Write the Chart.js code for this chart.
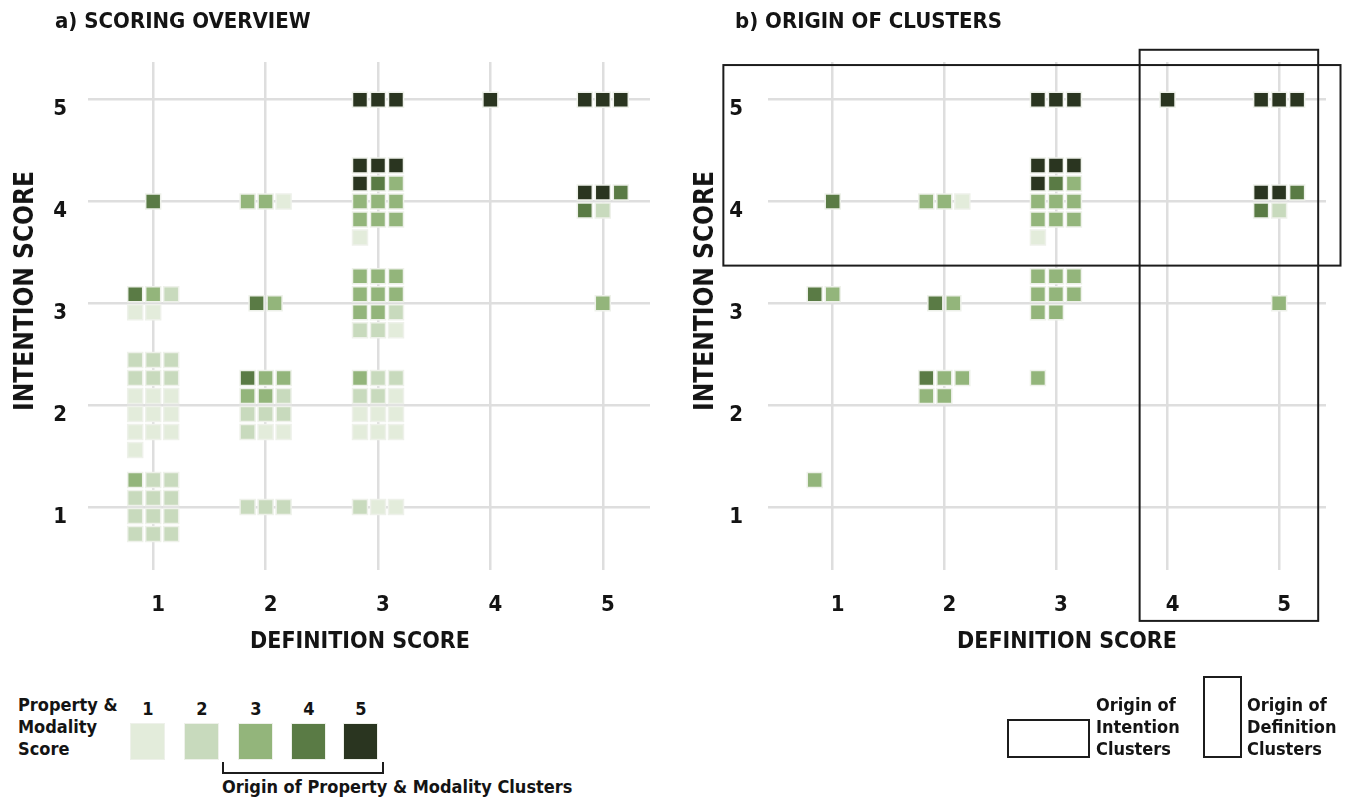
<!DOCTYPE html>
<html>
<head>
<meta charset="utf-8">
<script src="https://cdn.jsdelivr.net/npm/chart.js@4.4.1/dist/chart.umd.min.js"></script>
<style>
  body { margin: 0; background: #fff; }
  #page {
    position: relative; width: 1345px; height: 799px; overflow: hidden;
    font-family: "Liberation Sans Narrow", "DejaVu Sans Condensed", sans-serif;
    font-weight: bold; color: #141414;
  }
  .abs { position: absolute; white-space: nowrap; }
  .ptitle { font-size: 22px; top: 8px; }
  .xtitle { font-size: 23px; transform: translate(-50%, -50%); }
  .ytitle { font-size: 26px; transform: translate(-50%, -50%) rotate(-90deg); }
  .leg { font-size: 18px; line-height: 22px; }
  .swatch { position: absolute; width: 33px; height: 35px; border: 1.5px solid #eef1ea; }
  .num { position: absolute; font-size: 18px; transform: translateX(-50%); }
  .frame { position: absolute; border: 2px solid #1c1c1c; box-sizing: border-box; }
  canvas { position: absolute; top: 0; }
</style>
</head>
<body>
<div id="page">
  <canvas id="overview" width="680" height="680" style="left:0"></canvas>
  <canvas id="origin" width="665" height="680" style="left:680px"></canvas>

  <div class="abs ptitle" style="left:55px">a) SCORING OVERVIEW</div>
  <div class="abs ptitle" style="left:735px">b) ORIGIN OF CLUSTERS</div>
  <div class="abs xtitle" style="left:360px;top:640px">DEFINITION SCORE</div>
  <div class="abs xtitle" style="left:1067px;top:640px">DEFINITION SCORE</div>
  <div class="abs ytitle" style="left:24px;top:291px">INTENTION SCORE</div>
  <div class="abs ytitle" style="left:704px;top:291px">INTENTION SCORE</div>

  <div class="abs leg" style="left:18px;top:694px">Property &amp;<br>Modality<br>Score</div>
  <div id="swatches"></div>
  <div class="frame" style="left:222px;top:762px;width:162px;height:12px;border-top:none"></div>
  <div class="abs leg" style="left:222px;top:776px">Origin of Property &amp; Modality Clusters</div>

  <div class="frame" style="left:1007px;top:719px;width:83px;height:39px"></div>
  <div class="abs leg" style="left:1096px;top:694px">Origin of<br>Intention<br>Clusters</div>
  <div class="frame" style="left:1203px;top:676px;width:39px;height:82px"></div>
  <div class="abs leg" style="left:1247px;top:694px">Origin of<br>Definition<br>Clusters</div>
</div>

<script>
const FONT = '"Liberation Sans Narrow", "DejaVu Sans Condensed", sans-serif';

const defScores = [1, 2, 3, 4, 5];
const intScores = [1, 2, 3, 4, 5];
const pmScores = [1, 2, 3, 4, 5];
const pmColors = ["#e3ecdb", "#c8dabd", "#93b57b", "#5a7b45", "#2a3520"];

// [definition, intention, rows of property & modality scores] ("." = empty slot)
const overviewCells = [
  [3, 5, "555"],
  [4, 5, "5"],
  [5, 5, "555"],
  [1, 4, "4"],
  [2, 4, "331"],
  [3, 4, "555/543/333/333/1"],
  [5, 4, "554/42"],
  [1, 3, "432/11"],
  [2, 3, "43"],
  [3, 3, "333/333/332/221"],
  [5, 3, "3"],
  [1, 2, "222/222/111/111/111/1"],
  [2, 2, "433/332/222/211"],
  [3, 2, "322/221/111/111"],
  [1, 1, "322/222/222/222"],
  [2, 1, "222"],
  [3, 1, "211"],
];

const originCells = [
  [3, 5, "555"],
  [4, 5, "5"],
  [5, 5, "555"],
  [1, 4, "4"],
  [2, 4, "331"],
  [3, 4, "555/543/333/333/1"],
  [5, 4, "554/42"],
  [1, 3, "43./.."],
  [2, 3, "43"],
  [3, 3, "333/333/33./..."],
  [5, 3, "3"],
  [2, 2, "433/33./.../..."],
  [3, 2, "3../.../.../..."],
  [1, 1, "3../.../.../..."],
];

// cluster frames in panel b, in score units
const intentionFrame = { x: [0.02, 5.55], y: [3.37, 5.34] };
const definitionFrame = { x: [3.75, 5.35], y: [-0.12, 5.49] };

const PITCH = 18;

/* ---------- legend swatches ---------- */
const swatchLeft = [130, 184, 238, 291, 343];
document.getElementById("swatches").innerHTML = pmScores.map((s, i) =>
  `<div class="num" style="left:${swatchLeft[i] + 18}px;top:698px">${s}</div>` +
  `<div class="swatch" style="left:${swatchLeft[i]}px;top:723px;background:${pmColors[i]}"></div>`
).join("");

/* ---------- data ---------- */
function buildDatasets(cells) {
  return pmScores.map((s, k) => {
    const pts = [];
    cells.forEach(([d, it, spec]) => {
      const rows = spec.split("/");
      rows.forEach((row, r) => {
        [...row].forEach((ch, c) => {
          if (ch !== String(s)) return;
          const col = rows.length === 1 ? c - (row.length - 1) / 2 : c - 1;
          pts.push({ x: d, y: it, col, row: r - (rows.length - 1) / 2 });
        });
      });
    });
    return {
      label: String(s),
      data: pts,
      backgroundColor: pmColors[k],
      borderColor: "#eef1ea",
      borderWidth: 1.5,
      pointStyle: "rect",
      pointRadius: 10.6,
      pointHoverRadius: 10.6,
      clip: false
    };
  });
}

/* ---------- plugins ---------- */
const waffle = {
  id: "waffle",
  afterDatasetsUpdate(chart) {
    chart.data.datasets.forEach((ds, i) => {
      chart.getDatasetMeta(i).data.forEach((el, j) => {
        el.x += ds.data[j].col * PITCH;
        el.y += ds.data[j].row * PITCH;
      });
    });
  }
};

const frames = {
  id: "frames",
  afterDatasetsDraw(chart, args, opts) {
    const { ctx, scales: { x, y } } = chart;
    ctx.save();
    ctx.strokeStyle = "#1c1c1c";
    ctx.lineWidth = 2;
    (opts.list || []).forEach(f => {
      const x0 = x.getPixelForValue(f.x[0]), x1 = x.getPixelForValue(f.x[1]);
      const y0 = y.getPixelForValue(f.y[1]), y1 = y.getPixelForValue(f.y[0]);
      ctx.strokeRect(x0, y0, x1 - x0, y1 - y0);
    });
    ctx.restore();
  }
};

/* ---------- charts ---------- */
function makeChart(id, cells, rightPad, yPad, frameList) {
  const tickFont = { family: FONT, size: 22, weight: "bold" };
  return new Chart(document.getElementById(id), {
    type: "scatter",
    data: { datasets: buildDatasets(cells) },
    options: {
      responsive: false,
      animation: false,
      events: [],
      layout: { padding: { top: 62, right: rightPad, left: 0, bottom: 0 } },
      plugins: {
        legend: { display: false },
        tooltip: { enabled: false },
        frames: { list: frameList }
      },
      scales: {
        x: {
          min: 0.42, max: 5.42,
          afterBuildTicks: s => { s.ticks = defScores.map(v => ({ value: v })); },
          afterFit: s => { s.height = 110; },
          grid: { color: "#dedede", lineWidth: 2.5, drawTicks: false },
          border: { display: false },
          ticks: { padding: 22, labelOffset: 5, color: "#141414", font: tickFont }
        },
        y: {
          min: 0.38, max: 5.37,
          afterBuildTicks: s => { s.ticks = intScores.map(v => ({ value: v })); },
          afterFit: s => { s.width = 88; },
          grid: { color: "#dedede", lineWidth: 2.5, drawTicks: false },
          border: { display: false },
          ticks: { padding: yPad, labelOffset: 10, color: "#141414", font: tickFont }
        }
      }
    },
    plugins: [waffle, frames]
  });
}

makeChart("overview", overviewCells, 30, 21, []);
makeChart("origin", originCells, 19, 25, [intentionFrame, definitionFrame]);
</script>
</body>
</html>
